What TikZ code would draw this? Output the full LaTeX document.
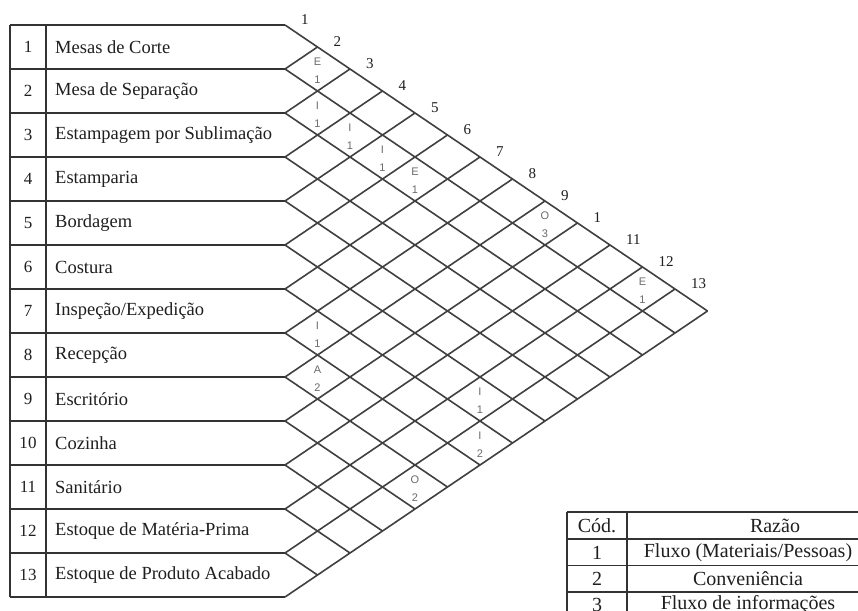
\documentclass[tikz,border=0pt]{standalone}
\usepackage{fontspec}
\setmainfont{Liberation Serif}
\newfontfamily\cellfont{Liberation Sans}
\begin{document}
\begin{tikzpicture}[x=1pt,y=-1pt,
  gridline/.style={line width=1.6pt, draw=black!75},
  tabline/.style={line width=1.6pt, draw=black!80},
  rowtxt/.style={font=\fontsize{18.5}{20}\selectfont, anchor=west, inner sep=0pt, text=black!88},
  rownum/.style={font=\fontsize{17}{18}\selectfont, inner sep=0pt, text=black!88},
  topnum/.style={font=\fontsize{15}{16}\selectfont, inner sep=0pt, text=black!88},
  rel/.style={font=\cellfont\fontsize{11}{12}\selectfont, inner sep=0pt, text=black!58},
  legtxt/.style={font=\fontsize{20}{21}\selectfont, inner sep=0pt, text=black!88}]
\useasboundingbox (0,0) rectangle (858,610);
\clip (0,0) rectangle (858,610);
\fill[white] (0,0) rectangle (858,610);

% row boundaries: left edge, column divider, start of the diagonal grid
\foreach \k in {0,...,13} {
  \coordinate (A\k) at (10,{25+44*\k});
  \coordinate (C\k) at (46,{25+44*\k});
  \coordinate (B\k) at (285,{25+44*\k});
  \coordinate (T\k) at ({285+32.5*\k},{25+22*\k});
  \coordinate (R\k) at ({285+32.5*(13-\k)},{25+22*(\k+13)});
}

% table of departments
\foreach \k in {0,...,13} \draw[tabline] (A\k) -- (B\k);
\draw[tabline] (A0) -- (A13);
\draw[tabline] (C0) -- (C13);

% diagonal relationship grid
\foreach \a in {0,...,12} \draw[gridline] (B\a) -- (R\a);
\foreach \b in {1,...,13} \draw[gridline] (B\b) -- (T\b);

% department names
\foreach \i/\name in {1/Mesas de Corte, 2/Mesa de Separação, 3/Estampagem por Sublimação,
  4/Estamparia, 5/Bordagem, 6/Costura, 7/Inspeção\slash Expedição, 8/Recepção,
  9/Escritório, 10/Cozinha, 11/Sanitário, 12/Estoque de Matéria-Prima,
  13/Estoque de Produto Acabado} {
  \node[rownum] (n\i) at (28,{47+44*(\i-1)}) {\i};
  \node[rowtxt] (d\i) at (55,{47+44*(\i-1)}) {\name};
}

% indices along the upper edge of the grid
\foreach \k/\t in {1/1,2/2,3/3,4/4,5/5,6/6,7/7,8/8,9/9,10/1,11/11,12/12,13/13} {
  \node[topnum, anchor=west] (h\k) at ({285+32.5*(\k-1)+16},{25+22*(\k-1)-5}) {\t};
}

% relationship codes: closeness letter above, reason code below
\foreach \i/\j/\l/\n in {1/2/E/1, 2/3/I/1, 2/4/I/1, 2/5/I/1, 2/6/E/1, 1/9/O/3,
  1/12/E/1, 7/8/I/1, 8/9/A/2, 6/12/I/1, 7/13/I/2, 9/13/O/2} {
  \node[rel] (r\i-\j) at ({285+32.5*(\j-\i)},{25+22*(\i+\j-1)-7}) {\l};
  \node[rel] (m\i-\j) at ({285+32.5*(\j-\i)},{25+22*(\i+\j-1)+11}) {\n};
}

% legend of reason codes
\foreach \k in {0,...,4} {
  \coordinate (P\k) at (567,{512+26.7*\k});
  \coordinate (Q\k) at (627,{512+26.7*\k});
  \coordinate (S\k) at (870,{512+26.7*\k});
  \draw[tabline] (P\k) -- (S\k);
}
\draw[tabline] (P0) -- (P4);
\draw[tabline] (Q0) -- (Q4);
\draw[tabline] (S0) -- (S4);
\node[legtxt] (lc) at (597,526) {Cód.};
\node[legtxt] (lr) at (775,526) {Razão};
\node[legtxt] (l1) at (597,553) {1};
\node[legtxt] (t1) at (748,553) {Fluxo (Materiais/Pessoas)};
\node[legtxt] (l2) at (597,579) {2};
\node[legtxt] (t2) at (748,579) {Conveniência};
\node[legtxt] (l3) at (597,605) {3};
\node[legtxt] (t3) at (748,605) {Fluxo de informações};
\end{tikzpicture}
\end{document}
